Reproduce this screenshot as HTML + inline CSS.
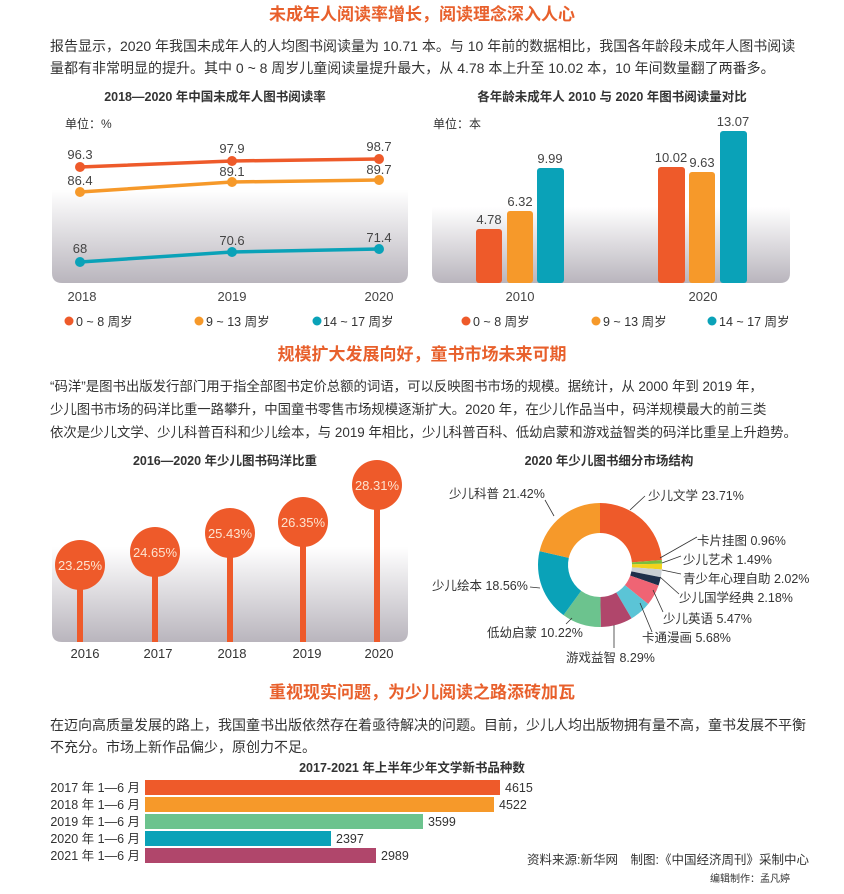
<!DOCTYPE html>
<html><head><meta charset="utf-8"><style>
html,body{margin:0;padding:0;background:#fff}
svg text{font-family:"Liberation Sans","Noto Sans CJK SC",sans-serif}
</style></head><body>
<svg id="s" width="844" height="889" viewBox="0 0 844 889" xmlns="http://www.w3.org/2000/svg">
<defs>
<linearGradient id="g" x1="0" y1="0" x2="0" y2="1">
<stop offset="0" stop-color="#ffffff"/><stop offset="1" stop-color="#b9b5bd"/>
</linearGradient>
</defs>
<g font-size="17" font-weight="bold" fill="#e8602c" text-anchor="middle">
<text x="422" y="20">未成年人阅读率增长，阅读理念深入人心</text>
<text x="422" y="360">规模扩大发展向好，童书市场未来可期</text>
<text x="422" y="698">重视现实问题，为少儿阅读之路添砖加瓦</text>
</g>
<g font-size="14" fill="#333">
<text x="50" y="51">报告显示，2020 年我国未成年人的人均图书阅读量为 10.71 本。与 10 年前的数据相比，我国各年龄段未成年人图书阅读</text>
<text x="50" y="73">量都有非常明显的提升。其中 0 ~ 8 周岁儿童阅读量提升最大，从 4.78 本上升至 10.02 本，10 年间数量翻了两番多。</text>
<text x="50" y="730">在迈向高质量发展的路上，我国童书出版依然存在着亟待解决的问题。目前，少儿人均出版物拥有量不高，童书发展不平衡</text>
<text x="50" y="752">不充分。市场上新作品偏少，原创力不足。</text>
</g>
<g font-size="13.4" fill="#333">
<text x="50" y="391">“码洋”是图书出版发行部门用于指全部图书定价总额的词语，可以反映图书市场的规模。据统计，从 2000 年到 2019 年，</text>
<text x="50" y="414">少儿图书市场的码洋比重一路攀升，中国童书零售市场规模逐渐扩大。2020 年，在少儿作品当中，码洋规模最大的前三类</text>
<text x="50" y="437">依次是少儿文学、少儿科普百科和少儿绘本，与 2019 年相比，少儿科普百科、低幼启蒙和游戏益智类的码洋比重呈上升趋势。</text>
</g>
<!-- chart1 -->
<text x="215" y="101" font-size="12.5" font-weight="bold" fill="#333" text-anchor="middle">2018—2020 年中国未成年人图书阅读率</text>
<text x="65" y="128" font-size="12" fill="#333">单位：%</text>
<path d="M52 190 H408 V273 Q408 283 398 283 H62 Q52 283 52 273 Z" fill="url(#g)"/>
<g stroke-width="3.5" fill="none">
<polyline points="80,167 232,161 379,159" stroke="#ee5a2a"/>
<polyline points="80,192 232,182 379,180" stroke="#f6992a"/>
<polyline points="80,262 232,252 379,249" stroke="#0aa2b8"/>
</g>
<g fill="#ee5a2a"><circle cx="80" cy="167" r="5"/><circle cx="232" cy="161" r="5"/><circle cx="379" cy="159" r="5"/></g>
<g fill="#f6992a"><circle cx="80" cy="192" r="5"/><circle cx="232" cy="182" r="5"/><circle cx="379" cy="180" r="5"/></g>
<g fill="#0aa2b8"><circle cx="80" cy="262" r="5"/><circle cx="232" cy="252" r="5"/><circle cx="379" cy="249" r="5"/></g>
<g font-size="13" fill="#444" text-anchor="middle">
<text x="80" y="159">96.3</text><text x="232" y="153">97.9</text><text x="379" y="151">98.7</text>
<text x="80" y="185">86.4</text><text x="232" y="176">89.1</text><text x="379" y="174">89.7</text>
<text x="80" y="253">68</text><text x="232" y="245">70.6</text><text x="379" y="242">71.4</text>
<text x="82" y="301">2018</text><text x="232" y="301">2019</text><text x="379" y="301">2020</text>
</g>
<!-- chart2 -->
<text x="612" y="101" font-size="12.5" font-weight="bold" fill="#333" text-anchor="middle">各年龄未成年人 2010 与 2020 年图书阅读量对比</text>
<text x="433" y="128" font-size="12" fill="#333">单位：本</text>
<path d="M432 207 H790 V273 Q790 283 780 283 H442 Q432 283 432 273 Z" fill="url(#g)"/>
<g>
<rect x="476" y="229" width="26" height="54" rx="3" fill="#ee5a2a"/>
<rect x="507" y="211" width="26" height="72" rx="3" fill="#f6992a"/>
<rect x="537" y="168" width="27" height="115" rx="3" fill="#0aa2b8"/>
<rect x="658" y="167" width="27" height="116" rx="3" fill="#ee5a2a"/>
<rect x="689" y="172" width="26" height="111" rx="3" fill="#f6992a"/>
<rect x="720" y="131" width="27" height="152" rx="3" fill="#0aa2b8"/>
</g>
<g font-size="13" fill="#444" text-anchor="middle">
<text x="489" y="224">4.78</text><text x="520" y="206">6.32</text><text x="550" y="163">9.99</text>
<text x="671" y="162">10.02</text><text x="702" y="167">9.63</text><text x="733" y="126">13.07</text>
<text x="520" y="301">2010</text><text x="703" y="301">2020</text>
</g>
<!-- legends -->
<g font-size="12.5" fill="#333">
<circle cx="69" cy="321" r="4.5" fill="#ee5a2a"/><text x="76" y="326">0 ~ 8 周岁</text>
<circle cx="199" cy="321" r="4.5" fill="#f6992a"/><text x="206" y="326">9 ~ 13 周岁</text>
<circle cx="317" cy="321" r="4.5" fill="#0aa2b8"/><text x="323" y="326">14 ~ 17 周岁</text>
<circle cx="466" cy="321" r="4.5" fill="#ee5a2a"/><text x="473" y="326">0 ~ 8 周岁</text>
<circle cx="596" cy="321" r="4.5" fill="#f6992a"/><text x="603" y="326">9 ~ 13 周岁</text>
<circle cx="712" cy="321" r="4.5" fill="#0aa2b8"/><text x="719" y="326">14 ~ 17 周岁</text>
</g>
<!-- lollipop -->
<text x="225" y="465" font-size="12.5" font-weight="bold" fill="#333" text-anchor="middle">2016—2020 年少儿图书码洋比重</text>
<path d="M52 547 H408 V632 Q408 642 398 642 H62 Q52 642 52 632 Z" fill="url(#g)"/>
<g fill="#ee5a2a">
<rect x="77" y="565" width="6" height="77"/><rect x="152" y="552" width="6" height="90"/><rect x="227" y="533" width="6" height="109"/><rect x="300" y="522" width="6" height="120"/><rect x="374" y="485" width="6" height="157"/>
<circle cx="80" cy="565" r="25"/><circle cx="155" cy="552" r="25"/><circle cx="230" cy="533" r="25"/><circle cx="303" cy="522" r="25"/><circle cx="377" cy="485" r="25"/>
</g>
<g font-size="13" fill="#fde3cf" text-anchor="middle">
<text x="80" y="570">23.25%</text><text x="155" y="557">24.65%</text><text x="230" y="538">25.43%</text><text x="303" y="527">26.35%</text><text x="377" y="490">28.31%</text>
</g>
<g font-size="13" fill="#333" text-anchor="middle">
<text x="85" y="658">2016</text><text x="158" y="658">2017</text><text x="232" y="658">2018</text><text x="307" y="658">2019</text><text x="379" y="658">2020</text>
</g>
<!-- donut -->
<text x="609" y="465" font-size="12.5" font-weight="bold" fill="#333" text-anchor="middle">2020 年少儿图书细分市场结构</text>
<g id="donut"></g>
<g stroke="#333" stroke-width="0.8" fill="none">
<path d="M545 500 L554 516"/><path d="M630 510 L645 496"/><path d="M660 558 L697 537"/><path d="M662 563 L681 556"/>
<path d="M662 570 L681 574"/><path d="M660 577 L679 594"/><path d="M653 590 L663 612"/><path d="M640 603 L652 632"/>
<path d="M614 625 L614 648"/><path d="M572 618 L566 624"/><path d="M540 588 L530 587"/>
</g>
<g font-size="12.5" fill="#333">
<text x="449" y="498">少儿科普 21.42%</text>
<text x="648" y="500">少儿文学 23.71%</text>
<text x="697" y="545">卡片挂图 0.96%</text>
<text x="683" y="564">少儿艺术 1.49%</text>
<text x="683" y="583">青少年心理自助 2.02%</text>
<text x="679" y="602">少儿国学经典 2.18%</text>
<text x="663" y="623">少儿英语 5.47%</text>
<text x="642" y="642">卡通漫画 5.68%</text>
<text x="566" y="662">游戏益智 8.29%</text>
<text x="487" y="637">低幼启蒙 10.22%</text>
<text x="432" y="590">少儿绘本 18.56%</text>
</g>
<!-- hbar -->
<text x="412" y="772" font-size="12.5" font-weight="bold" fill="#333" text-anchor="middle">2017-2021 年上半年少年文学新书品种数</text>
<g>
<rect x="145" y="780" width="355" height="15" fill="#ee5a2a"/>
<rect x="145" y="797" width="349" height="15" fill="#f6992a"/>
<rect x="145" y="814" width="278" height="15" fill="#6cc38e"/>
<rect x="145" y="831" width="186" height="15" fill="#0aa2b8"/>
<rect x="145" y="848" width="231" height="15" fill="#b0466b"/>
</g>
<g font-size="12.5" fill="#333">
<g text-anchor="end">
<text x="140" y="792">2017 年 1—6 月</text><text x="140" y="809">2018 年 1—6 月</text><text x="140" y="826">2019 年 1—6 月</text><text x="140" y="843">2020 年 1—6 月</text><text x="140" y="860">2021 年 1—6 月</text>
</g>
<text x="505" y="792">4615</text><text x="499" y="809">4522</text><text x="428" y="826">3599</text><text x="336" y="843">2397</text><text x="381" y="860">2989</text>
<text x="527" y="864">资料来源:新华网　制图:《中国经济周刊》采制中心</text>
<text x="790" y="882" font-size="10" text-anchor="end">编辑制作：孟凡婷</text>
</g>
</svg>
<script>
(function(){
var d=[[23.71,"#ee5a2a"],[0.96,"#7bbd3c"],[1.49,"#f3d31c"],[2.02,"#c9cfd3"],[2.18,"#1d2f4a"],[5.47,"#ef6474"],[5.68,"#5bc4d6"],[8.29,"#b0466b"],[10.22,"#6cc38e"],[18.56,"#0aa2b8"],[21.42,"#f6992a"]];
var cx=600,cy=565,R=62,r=32,a=0,g=document.getElementById("donut"),h="";
function p(ang,rad){var t=(ang-90)*Math.PI/180;return (cx+rad*Math.cos(t)).toFixed(2)+" "+(cy+rad*Math.sin(t)).toFixed(2);}
d.forEach(function(s){var b=a+s[0]*3.6,l=(b-a)>180?1:0;
h+='<path d="M'+p(a,R)+' A'+R+' '+R+' 0 '+l+' 1 '+p(b,R)+' L'+p(b,r)+' A'+r+' '+r+' 0 '+l+' 0 '+p(a,r)+' Z" fill="'+s[1]+'"/>';a=b;});
g.innerHTML=h;
})();
</script>
</body></html>
